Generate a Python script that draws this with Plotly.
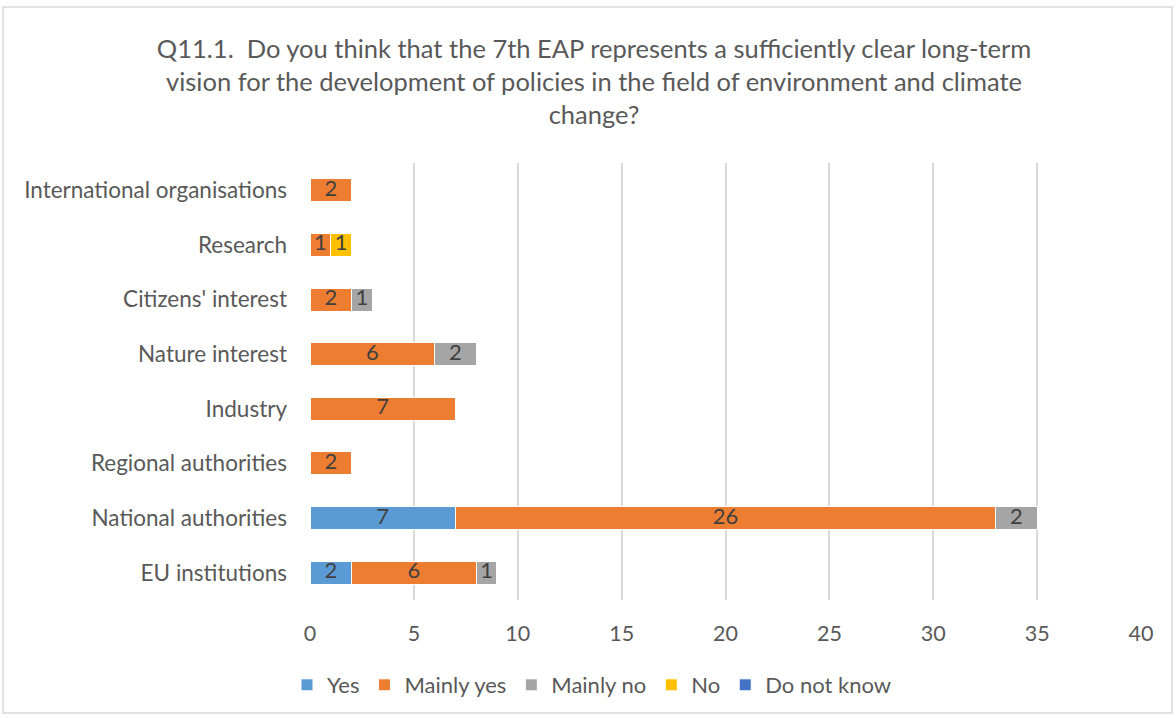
import plotly.graph_objects as go

# Respondent groups, bottom to top
categories = [
    "EU institutions",
    "National authorities",
    "Regional authorities",
    "Industry",
    "Nature interest",
    "Citizens' interest",
    "Research",
    "International organisations",
]

yes = [2, 7, 0, 0, 0, 0, 0, 0]
mainly_yes = [6, 26, 2, 7, 6, 2, 1, 2]
mainly_no = [1, 2, 0, 0, 2, 1, 0, 0]
no = [0, 0, 0, 0, 0, 0, 1, 0]
do_not_know = [0, 0, 0, 0, 0, 0, 0, 0]

series = [
    ("Yes", yes, "#5B9BD5"),
    ("Mainly yes", mainly_yes, "#ED7D31"),
    ("Mainly no", mainly_no, "#A5A5A5"),
    ("No", no, "#FFC000"),
    ("Do not know", do_not_know, "#4472C4"),
]

x_ticks = [0, 5, 10, 15, 20, 25, 30, 35, 40]

FONT = "Lato"
TEXT_GREY = "#595959"
LABEL_GREY = "#404040"

W, H = 1176, 718
L, R, T, B = 310, 35, 163, 118

fig = go.Figure()
for name, vals, color in series:
    fig.add_trace(
        go.Bar(
            y=categories,
            x=vals,
            name=name,
            orientation="h",
            marker=dict(color=color, line=dict(color="white", width=1)),
            hoverinfo="x+y+name",
        )
    )

# value labels centred on each stacked segment
base = [0] * len(categories)
for name, vals, color in series:
    lx, ly, lt = [], [], []
    for i, v in enumerate(vals):
        if v:
            lx.append(base[i] + v / 2)
            ly.append(categories[i])
            lt.append(str(v))
        base[i] += v
    if lx:
        fig.add_trace(
            go.Scatter(
                x=lx,
                y=ly,
                text=lt,
                mode="text",
                textposition="middle center",
                textfont=dict(family=FONT, size=22, color=LABEL_GREY),
                showlegend=False,
                hoverinfo="skip",
            )
        )

pw = W - L - R
ph = H - T - B
# outer chart border
fig.add_shape(
    type="rect",
    xref="paper", yref="paper",
    x0=(3 - L) / pw, x1=(1172 - L) / pw,
    y0=-(713 - (H - B)) / ph, y1=1 + (T - 7) / ph,
    line=dict(color="#D9D9D9", width=1.5),
    fillcolor="rgba(0,0,0,0)",
    layer="below",
)

fig.update_layout(
    width=W,
    height=H,
    margin=dict(l=L, r=R, t=T, b=B),
    barmode="stack",
    bargap=0.58,
    paper_bgcolor="white",
    plot_bgcolor="white",
    font=dict(family=FONT, color=TEXT_GREY),
    title=dict(
        text="Q11.1.  Do you think that the 7th EAP represents a sufficiently clear long-term<br>"
        "vision for the development of policies in the field of environment and climate<br>"
        "change?",
        x=594 / W,
        xanchor="center",
        xref="container",
        y=1 - 58 / H,
        yanchor="top",
        yref="container",
        font=dict(family=FONT, size=25.5, color=TEXT_GREY),
    ),
    xaxis=dict(
        range=[0, 40],
        tickvals=x_ticks,
        ticktext=[str(t) for t in x_ticks],
        showgrid=True,
        gridcolor="#D9D9D9",
        gridwidth=1.5,
        zeroline=False,
        showline=False,
        ticks="",
        ticklabelstandoff=18,
        tickfont=dict(family=FONT, size=21.5, color=TEXT_GREY),
    ),
    yaxis=dict(
        categoryorder="array",
        categoryarray=categories,
        showgrid=False,
        showline=False,
        ticks="",
        ticklabelstandoff=22,
        tickfont=dict(family=FONT, size=22.5, color=TEXT_GREY),
    ),
    legend=dict(
        orientation="h",
        xref="container",
        yref="container",
        x=592 / W,
        xanchor="center",
        y=1 - 685 / H,
        yanchor="middle",
        font=dict(family=FONT, size=22, color=TEXT_GREY),
        traceorder="normal",
        itemwidth=30,
    ),
)

fig.write_html("out.html")
